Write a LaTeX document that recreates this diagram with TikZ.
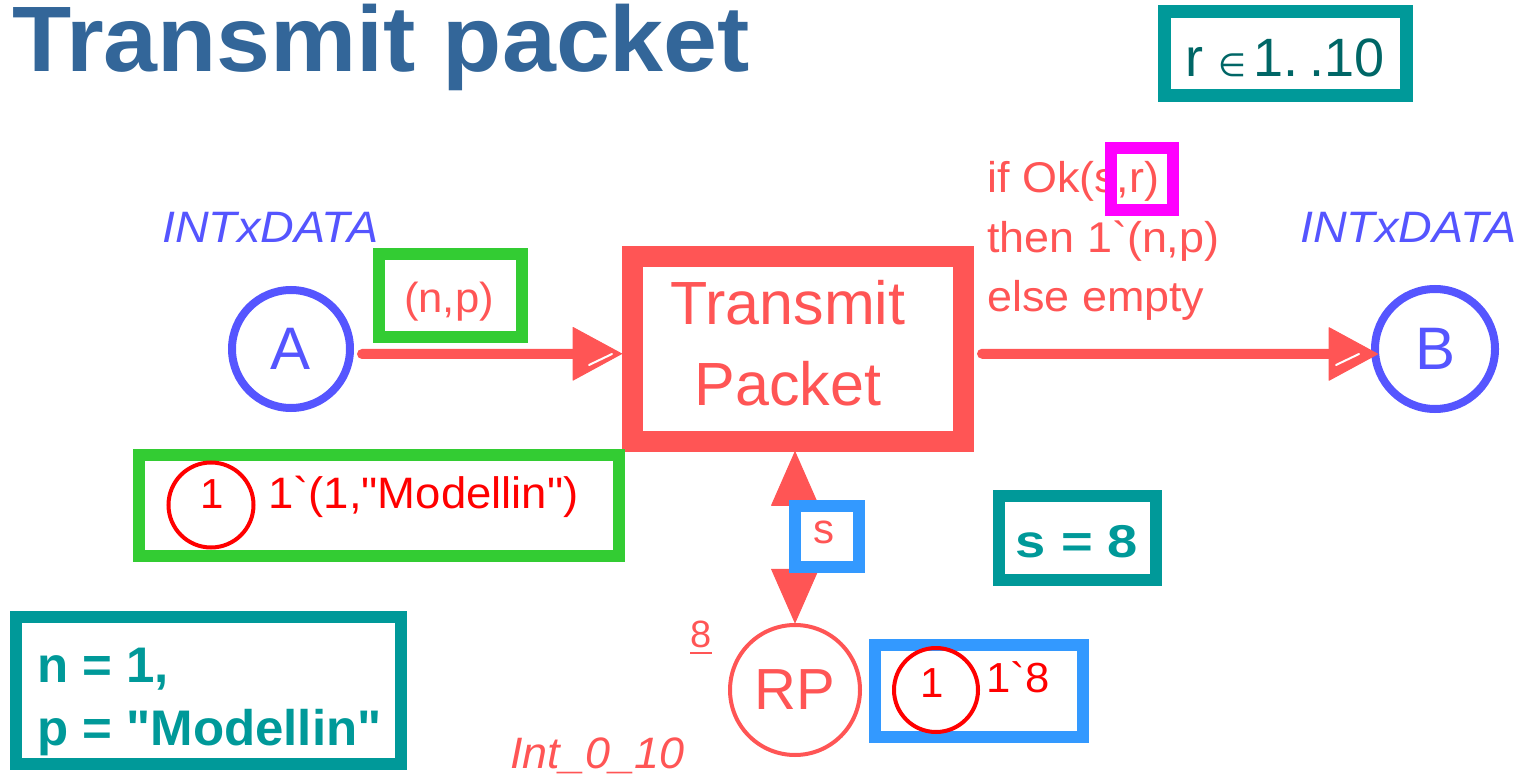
\documentclass[tikz,border=0pt]{standalone}
\usepackage{graphicx}
\usepackage{fontspec}
\setmainfont{Liberation Sans}[Ligatures=TeXOff]
\newfontfamily\dejavu{DejaVu Sans}
\usetikzlibrary{arrows.meta}
\definecolor{coral}{RGB}{255,85,85}
\definecolor{pblue}{RGB}{85,85,255}
\definecolor{teal2}{RGB}{0,153,153}
\definecolor{dteal}{RGB}{0,102,102}
\definecolor{titlec}{RGB}{51,102,153}
\definecolor{green2}{RGB}{51,204,51}
\definecolor{sblue}{RGB}{51,153,255}
\definecolor{magenta2}{RGB}{255,0,255}
\newcommand\fsz[1]{\fontsize{#1}{#1}\selectfont}
\newcommand\hstr[2]{\scalebox{#1}[1]{#2}}
\tikzset{
  place/.style={circle, draw, inner sep=0pt},
  trans/.style={rectangle, draw=coral, line width=21pt, minimum width=331pt, minimum height=184.5pt, inner sep=0pt},
  frame/.style={rectangle, draw, line width=12pt, inner sep=0pt},
  tokmark/.style={circle, draw=red, line width=4pt, inner sep=0pt, minimum size=85pt},
  txt/.style={inner sep=0pt, anchor=base west},
  ctxt/.style={inner sep=0pt, anchor=base},
  arc/.style={draw=coral, line width=10pt, line cap=round},
  bigtip/.tip={Triangle[length=50pt,width=54pt,line width=1pt,round]},
  vtip/.tip={Triangle[length=55pt,width=48pt,line width=1pt,round]},
}
\begin{document}
\begin{tikzpicture}[x=1pt,y=-1pt]
\useasboundingbox (0,0) rectangle (1523,775);

% title
\node[txt, text=titlec, font=\fsz{93}\bfseries] (title) at (12,72) {\hstr{1.042}{Transmit packet}};

% r in 1..10
\node[frame, draw=teal2, line width=13pt, minimum width=241.5pt, minimum height=83.5pt] (rbox) at (1285.25,53.75) {};
\node[txt, text=dteal, font=\fsz{54}] (rtext) at (1185,77) {r {\dejavu\fsz{32}∈}\hspace{7pt}1.\hspace{11pt}.10};

% places
\node[place, draw=pblue, line width=8pt, minimum size=118pt, text=pblue, font=\fsz{60}] (A) at (291,349) {A};
\node[place, draw=pblue, line width=8pt, minimum size=120pt, text=pblue, font=\fsz{60}] (B) at (1435,349) {B};
\node[place, draw=coral, line width=4pt, minimum size=130pt, text=coral, font=\fsz{58}] (RP) at (795,690) {RP};

\node[txt, text=pblue, font=\fsz{44}\itshape] (tA) at (162,243) {\hstr{1.06}{INTxDATA}};
\node[txt, text=pblue, font=\fsz{44}\itshape] (tB) at (1300,243) {\hstr{1.06}{INTxDATA}};
\node[txt, text=coral, font=\fsz{44}\itshape] (tRP) at (510,768) {\hstr{1.02}{Int\_0\_10}};
\node[txt, text=coral, font=\fsz{38}] (initRP) at (690,647) {8};
\draw[coral, line width=2.5pt] ([yshift=-6pt]initRP.base west) -- ([yshift=-6pt]initRP.base east);

% transition
\node[trans] (T) at (798,348.75) {};
\node[text=coral, font=\fontsize{61}{81}\selectfont, align=center, inner sep=0pt] (Tlab) at (788,343) {Transmit\\Packet};

% arcs
\draw[arc, -{bigtip}, shorten <=8pt] ([yshift=-5pt]A.east) -- ([yshift=-5pt]T.west);
\draw[arc, -{bigtip}, shorten <=8pt, shorten >=-7pt] ([yshift=-5pt]T.east) -- ([yshift=-5pt]B.west);
\draw[arc, {vtip}-{vtip}] (T.south -| RP.north) -- (RP.north);
\draw[white, line width=2pt, line cap=round] (589,365) -- (612,354);
\draw[white, line width=2pt, line cap=round] (1336,365) -- (1359,354);

% arc inscription (n,p)
\node[frame, draw=green2, minimum width=143pt, minimum height=83pt] (npbox) at (450.5,295.5) {};
\node[ctxt, text=coral, font=\fsz{42}] (np) at (449,313) {\hstr{1.04}{(n,p)}};

% guard
\node[txt, text=coral, font=\fsz{43}] (g1) at (987,193) {\hstr{1.045}{if Ok(s,r)}};
\node[txt, text=coral, font=\fsz{43}] (g2) at (987,253) {\hstr{1.045}{then 1`(n,p)}};
\node[txt, text=coral, font=\fsz{43}] (g3) at (987,312) {\hstr{1.045}{else empty}};
\node[frame, draw=magenta2, minimum width=62pt, minimum height=62pt] (rmark) at (1141.5,179.5) {};

% s inscription
\node[frame, draw=sblue, fill=white, minimum width=64pt, minimum height=61pt] (sbox) at (827,536.5) {};
\node[ctxt, text=coral, font=\fsz{42}] (s) at (824,543) {s};

% marking of A
\node[frame, draw=green2, minimum width=480pt, minimum height=101pt] (mA) at (379,505.5) {};
\node[tokmark] (cA) at (211,505) {};
\node[ctxt, text=red, font=\fsz{42}] (nA) at (212,508) {1};
\node[txt, text=red, font=\fsz{44}] (tokA) at (268,508) {\hstr{1.034}{1`(1,"Modellin")}};

% marking of RP
\node[frame, draw=sblue, minimum width=208pt, minimum height=92pt] (mRP) at (979,691) {};
\node[tokmark, minimum size=84pt] (cRP) at (936,690) {};
\node[ctxt, text=red, font=\fsz{42}] (nRP) at (932,697) {1};
\node[txt, text=red, font=\fsz{42}] (tokRP) at (986,692) {\hstr{1.04}{1`8}};

% binding s = 8
\node[frame, draw=teal2, minimum width=157pt, minimum height=84pt] (sb) at (1077.5,538) {};
\node[ctxt, text=teal2, font=\fsz{46}\bfseries] (sbt) at (1077,557) {\hstr{1.18}{s = 8}};

% binding n, p
\node[frame, draw=teal2, minimum width=385pt, minimum height=147pt] (npb) at (208.5,690.5) {};
\node[txt, text=teal2, font=\fsz{50}\bfseries] (n1) at (37,682) {\hstr{1.02}{n = 1,}};
\node[txt, text=teal2, font=\fsz{50}\bfseries] (p1) at (37,745) {\hstr{1.02}{p = "Modellin"}};
\end{tikzpicture}
\end{document}
